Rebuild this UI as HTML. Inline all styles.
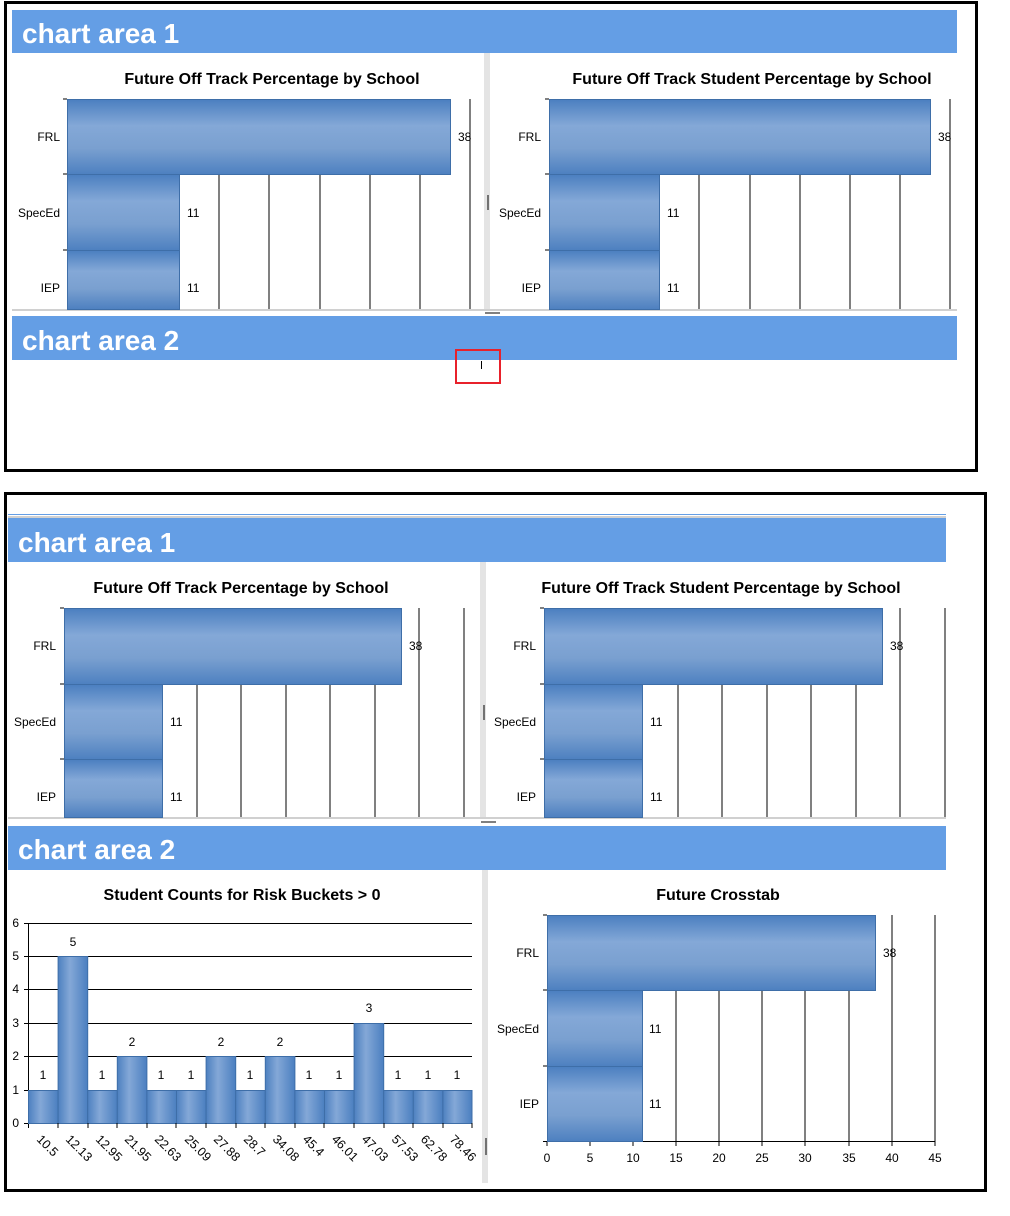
<!DOCTYPE html>
<html><head><meta charset="utf-8"><style>
html,body{margin:0;padding:0;background:#fff;width:1010px;height:1216px;overflow:hidden}
svg{display:block;font-family:"Liberation Sans",sans-serif}
.h{font-family:"Liberation Sans",sans-serif;font-weight:bold;fill:#fff;font-size:28px}
.t{font-weight:bold;font-size:16px;text-anchor:middle}
.l{font-size:12px}
.r{font-size:12.5px}
</style></head><body>
<svg width="1010" height="1216" viewBox="0 0 1010 1216">
<defs>
<linearGradient id="hb" x1="0" y1="0" x2="0" y2="1">
<stop offset="0" stop-color="#4b7fc0"/><stop offset="0.35" stop-color="#84a8d7"/><stop offset="0.65" stop-color="#7aa0d0"/><stop offset="1" stop-color="#4d80c0"/></linearGradient>
<linearGradient id="vb" x1="0" y1="0" x2="1" y2="0">
<stop offset="0" stop-color="#4d80c0"/><stop offset="0.4" stop-color="#84a8d7"/><stop offset="1" stop-color="#4b7fc0"/></linearGradient>
</defs>

<!-- TOP BOX -->
<rect x="5.5" y="2.5" width="971" height="468" fill="#fff" stroke="#000" stroke-width="3"/>
<rect x="12" y="10" width="945" height="43" fill="#649ee5"/>
<text class="h" x="22" y="43">chart area 1</text>
<rect x="484" y="53" width="6" height="257" fill="#e4e4e4"/>
<line x1="488" y1="195" x2="488" y2="210" stroke="#000"/>
<rect x="12" y="309" width="945" height="2" fill="#d0d0d0"/>
<line x1="485" y1="313" x2="500" y2="313" stroke="#000"/>
<rect x="12" y="316" width="945" height="44" fill="#649ee5"/>
<text class="h" x="22" y="350">chart area 2</text>
<rect x="456" y="350" width="44" height="33" fill="none" stroke="#e8212b" stroke-width="2"/>
<line x1="481.5" y1="361" x2="481.5" y2="369" stroke="#000"/>

<!-- chart A1 left -->
<g>
<text class="t" x="272" y="84">Future Off Track Percentage by School</text>
<g stroke="#000"><line x1="219" y1="99" x2="219" y2="309"/><line x1="269" y1="99" x2="269" y2="309"/><line x1="320" y1="99" x2="320" y2="309"/><line x1="370" y1="99" x2="370" y2="309"/><line x1="420" y1="99" x2="420" y2="309"/><line x1="470" y1="99" x2="470" y2="309"/>
<line x1="63" y1="99" x2="67" y2="99"/><line x1="63" y1="174" x2="67" y2="174"/><line x1="63" y1="250" x2="67" y2="250"/></g>
<rect x="67.5" y="99.5" width="383" height="75" fill="url(#hb)" stroke="#3e6ea8"/>
<rect x="67.5" y="174.5" width="112" height="76" fill="url(#hb)" stroke="#3e6ea8"/>
<rect x="67.5" y="250.5" width="112" height="59" fill="url(#hb)" stroke="#3e6ea8"/>
<text class="l" x="60" y="141" text-anchor="end">FRL</text>
<text class="l" x="60" y="217" text-anchor="end">SpecEd</text>
<text class="l" x="60" y="292" text-anchor="end">IEP</text>
<text class="l" x="458" y="141">38</text><text class="l" x="187" y="217">11</text><text class="l" x="187" y="292">11</text>
</g>
<!-- chart A1 right -->
<g>
<text class="t" x="752" y="84">Future Off Track Student Percentage by School</text>
<g stroke="#000"><line x1="699" y1="174" x2="699" y2="309"/><line x1="750" y1="174" x2="750" y2="309"/><line x1="800" y1="174" x2="800" y2="309"/><line x1="850" y1="174" x2="850" y2="309"/><line x1="900" y1="174" x2="900" y2="309"/><line x1="950" y1="99" x2="950" y2="309"/>
<line x1="545" y1="99" x2="549" y2="99"/><line x1="545" y1="174" x2="549" y2="174"/><line x1="545" y1="250" x2="549" y2="250"/></g>
<rect x="549.5" y="99.5" width="381" height="75" fill="url(#hb)" stroke="#3e6ea8"/>
<rect x="549.5" y="174.5" width="110" height="76" fill="url(#hb)" stroke="#3e6ea8"/>
<rect x="549.5" y="250.5" width="110" height="59" fill="url(#hb)" stroke="#3e6ea8"/>
<text class="l" x="541" y="141" text-anchor="end">FRL</text>
<text class="l" x="541" y="217" text-anchor="end">SpecEd</text>
<text class="l" x="541" y="292" text-anchor="end">IEP</text>
<text class="l" x="938" y="141">38</text><text class="l" x="667" y="217">11</text><text class="l" x="667" y="292">11</text>
</g>

<!-- BOTTOM BOX -->
<rect x="5.5" y="493.5" width="980" height="697" fill="#fff" stroke="#000" stroke-width="3"/>
<rect x="8" y="514" width="938" height="1" fill="#649ee5"/>
<rect x="8" y="516" width="938" height="2" fill="#d0d0d0"/>
<rect x="8" y="518" width="938" height="44" fill="#649ee5"/>
<text class="h" x="18" y="552">chart area 1</text>
<rect x="480" y="562" width="6" height="256" fill="#e4e4e4"/>
<line x1="484" y1="705" x2="484" y2="720" stroke="#000"/>
<rect x="8" y="817" width="938" height="2" fill="#d0d0d0"/>
<line x1="481" y1="822" x2="496" y2="822" stroke="#000"/>
<rect x="8" y="826" width="938" height="44" fill="#649ee5"/>
<text class="h" x="18" y="859">chart area 2</text>
<rect x="482" y="870" width="6" height="313" fill="#e4e4e4"/>
<line x1="486" y1="1138" x2="486" y2="1155" stroke="#000"/>

<!-- B1 left -->
<g>
<text class="t" x="241" y="593">Future Off Track Percentage by School</text>
<g stroke="#000"><line x1="197" y1="684" x2="197" y2="817"/><line x1="241" y1="684" x2="241" y2="817"/><line x1="286" y1="684" x2="286" y2="817"/><line x1="330" y1="684" x2="330" y2="817"/><line x1="375" y1="684" x2="375" y2="817"/><line x1="419" y1="608" x2="419" y2="817"/><line x1="464" y1="608" x2="464" y2="817"/>
<line x1="60" y1="608" x2="64" y2="608"/><line x1="60" y1="684" x2="64" y2="684"/><line x1="60" y1="759" x2="64" y2="759"/></g>
<rect x="64.5" y="608.5" width="337" height="76" fill="url(#hb)" stroke="#3e6ea8"/>
<rect x="64.5" y="684.5" width="98" height="75" fill="url(#hb)" stroke="#3e6ea8"/>
<rect x="64.5" y="759.5" width="98" height="58" fill="url(#hb)" stroke="#3e6ea8"/>
<text class="l" x="56" y="650" text-anchor="end">FRL</text>
<text class="l" x="56" y="726" text-anchor="end">SpecEd</text>
<text class="l" x="56" y="801" text-anchor="end">IEP</text>
<text class="l" x="409" y="650">38</text><text class="l" x="170" y="726">11</text><text class="l" x="170" y="801">11</text>
</g>
<!-- B1 right -->
<g>
<text class="t" x="721" y="593">Future Off Track Student Percentage by School</text>
<g stroke="#000"><line x1="678" y1="684" x2="678" y2="817"/><line x1="722" y1="684" x2="722" y2="817"/><line x1="767" y1="684" x2="767" y2="817"/><line x1="811" y1="684" x2="811" y2="817"/><line x1="856" y1="684" x2="856" y2="817"/><line x1="900" y1="608" x2="900" y2="817"/><line x1="945" y1="608" x2="945" y2="817"/>
<line x1="540" y1="608" x2="544" y2="608"/><line x1="540" y1="684" x2="544" y2="684"/><line x1="540" y1="759" x2="544" y2="759"/></g>
<rect x="544.5" y="608.5" width="338" height="76" fill="url(#hb)" stroke="#3e6ea8"/>
<rect x="544.5" y="684.5" width="98" height="75" fill="url(#hb)" stroke="#3e6ea8"/>
<rect x="544.5" y="759.5" width="98" height="58" fill="url(#hb)" stroke="#3e6ea8"/>
<text class="l" x="536" y="650" text-anchor="end">FRL</text>
<text class="l" x="536" y="726" text-anchor="end">SpecEd</text>
<text class="l" x="536" y="801" text-anchor="end">IEP</text>
<text class="l" x="890" y="650">38</text><text class="l" x="650" y="726">11</text><text class="l" x="650" y="801">11</text>
</g>

<!-- Histogram -->
<g>
<text class="t" x="242" y="900">Student Counts for Risk Buckets &gt; 0</text>
<g stroke="#000">
<line x1="28" y1="923.5" x2="472" y2="923.5"/><line x1="28" y1="956.5" x2="472" y2="956.5"/><line x1="28" y1="989.5" x2="472" y2="989.5"/><line x1="28" y1="1023.5" x2="472" y2="1023.5"/><line x1="28" y1="1056.5" x2="472" y2="1056.5"/><line x1="28" y1="1090.5" x2="472" y2="1090.5"/><line x1="28" y1="1123.5" x2="472" y2="1123.5"/>
<line x1="28.5" y1="923" x2="28.5" y2="1128"/>
<line x1="24" y1="923.5" x2="28" y2="923.5"/><line x1="24" y1="956.5" x2="28" y2="956.5"/><line x1="24" y1="989.5" x2="28" y2="989.5"/><line x1="24" y1="1023.5" x2="28" y2="1023.5"/><line x1="24" y1="1056.5" x2="28" y2="1056.5"/><line x1="24" y1="1090.5" x2="28" y2="1090.5"/><line x1="24" y1="1123.5" x2="28" y2="1123.5"/>
</g>
<g class="l" text-anchor="end"><text x="19" y="927">6</text><text x="19" y="960">5</text><text x="19" y="993">4</text><text x="19" y="1027">3</text><text x="19" y="1060">2</text><text x="19" y="1094">1</text><text x="19" y="1127">0</text></g>
<g stroke="#3e6ea8" fill="url(#vb)">
<rect x="28.5" y="1090.5" width="29.6" height="33"/>
<rect x="58.1" y="956.5" width="29.6" height="167"/>
<rect x="87.7" y="1090.5" width="29.6" height="33"/>
<rect x="117.3" y="1056.5" width="29.6" height="67"/>
<rect x="146.9" y="1090.5" width="29.6" height="33"/>
<rect x="176.5" y="1090.5" width="29.6" height="33"/>
<rect x="206.1" y="1056.5" width="29.6" height="67"/>
<rect x="235.7" y="1090.5" width="29.6" height="33"/>
<rect x="265.3" y="1056.5" width="29.6" height="67"/>
<rect x="294.9" y="1090.5" width="29.6" height="33"/>
<rect x="324.5" y="1090.5" width="29.6" height="33"/>
<rect x="354.1" y="1023.5" width="29.6" height="100"/>
<rect x="383.7" y="1090.5" width="29.6" height="33"/>
<rect x="413.3" y="1090.5" width="29.6" height="33"/>
<rect x="442.9" y="1090.5" width="29.1" height="33"/>
</g>
<g class="l" text-anchor="middle">
<text x="43" y="1079">1</text><text x="73" y="946">5</text><text x="102" y="1079">1</text><text x="132" y="1046">2</text><text x="161" y="1079">1</text><text x="191" y="1079">1</text><text x="221" y="1046">2</text><text x="250" y="1079">1</text><text x="280" y="1046">2</text><text x="309" y="1079">1</text><text x="339" y="1079">1</text><text x="369" y="1012">3</text><text x="398" y="1079">1</text><text x="428" y="1079">1</text><text x="457" y="1079">1</text>
</g>
<g stroke="#000"><line x1="58" y1="1123" x2="58" y2="1128"/><line x1="88" y1="1123" x2="88" y2="1128"/><line x1="117" y1="1123" x2="117" y2="1128"/><line x1="147" y1="1123" x2="147" y2="1128"/><line x1="176" y1="1123" x2="176" y2="1128"/><line x1="206" y1="1123" x2="206" y2="1128"/><line x1="236" y1="1123" x2="236" y2="1128"/><line x1="265" y1="1123" x2="265" y2="1128"/><line x1="295" y1="1123" x2="295" y2="1128"/><line x1="324" y1="1123" x2="324" y2="1128"/><line x1="354" y1="1123" x2="354" y2="1128"/><line x1="384" y1="1123" x2="384" y2="1128"/><line x1="413" y1="1123" x2="413" y2="1128"/><line x1="443" y1="1123" x2="443" y2="1128"/><line x1="472" y1="1123" x2="472" y2="1128"/></g>
<g class="r">
<text transform="translate(36,1140) rotate(45)">10.5</text>
<text transform="translate(65,1140) rotate(45)">12.13</text>
<text transform="translate(95,1140) rotate(45)">12.95</text>
<text transform="translate(124,1140) rotate(45)">21.95</text>
<text transform="translate(154,1140) rotate(45)">22.63</text>
<text transform="translate(184,1140) rotate(45)">25.09</text>
<text transform="translate(213,1140) rotate(45)">27.88</text>
<text transform="translate(243,1140) rotate(45)">28.7</text>
<text transform="translate(272,1140) rotate(45)">34.08</text>
<text transform="translate(302,1140) rotate(45)">45.4</text>
<text transform="translate(331,1140) rotate(45)">46.01</text>
<text transform="translate(361,1140) rotate(45)">47.03</text>
<text transform="translate(391,1140) rotate(45)">57.53</text>
<text transform="translate(420,1140) rotate(45)">62.78</text>
<text transform="translate(449,1140) rotate(45)">78.46</text>
</g>
</g>

<!-- Crosstab -->
<g>
<text class="t" x="718" y="900">Future Crosstab</text>
<g stroke="#000">
<line x1="676" y1="990" x2="676" y2="1141"/><line x1="719" y1="990" x2="719" y2="1141"/><line x1="762" y1="990" x2="762" y2="1141"/><line x1="805" y1="990" x2="805" y2="1141"/><line x1="849" y1="990" x2="849" y2="1141"/><line x1="892" y1="915" x2="892" y2="1141"/><line x1="935" y1="915" x2="935" y2="1141"/>
<line x1="543" y1="915" x2="547" y2="915"/><line x1="543" y1="990" x2="547" y2="990"/><line x1="543" y1="1066" x2="547" y2="1066"/><line x1="543" y1="1141.5" x2="935" y2="1141.5"/>
<line x1="547" y1="1141" x2="547" y2="1146"/><line x1="590" y1="1141" x2="590" y2="1146"/><line x1="633" y1="1141" x2="633" y2="1146"/><line x1="676" y1="1141" x2="676" y2="1146"/><line x1="719" y1="1141" x2="719" y2="1146"/><line x1="762" y1="1141" x2="762" y2="1146"/><line x1="805" y1="1141" x2="805" y2="1146"/><line x1="849" y1="1141" x2="849" y2="1146"/><line x1="892" y1="1141" x2="892" y2="1146"/><line x1="935" y1="1141" x2="935" y2="1146"/>
</g>
<rect x="547.5" y="915.5" width="328" height="75" fill="url(#hb)" stroke="#3e6ea8"/>
<rect x="547.5" y="990.5" width="95" height="76" fill="url(#hb)" stroke="#3e6ea8"/>
<rect x="547.5" y="1066.5" width="95" height="75" fill="url(#hb)" stroke="#3e6ea8"/>
<text class="l" x="539" y="957" text-anchor="end">FRL</text>
<text class="l" x="539" y="1033" text-anchor="end">SpecEd</text>
<text class="l" x="539" y="1108" text-anchor="end">IEP</text>
<text class="l" x="883" y="957">38</text><text class="l" x="649" y="1033">11</text><text class="l" x="649" y="1108">11</text>
<g class="l" text-anchor="middle"><text x="547" y="1162">0</text><text x="590" y="1162">5</text><text x="633" y="1162">10</text><text x="676" y="1162">15</text><text x="719" y="1162">20</text><text x="762" y="1162">25</text><text x="805" y="1162">30</text><text x="849" y="1162">35</text><text x="892" y="1162">40</text><text x="935" y="1162">45</text></g>
</g>
</svg>
</body></html>
